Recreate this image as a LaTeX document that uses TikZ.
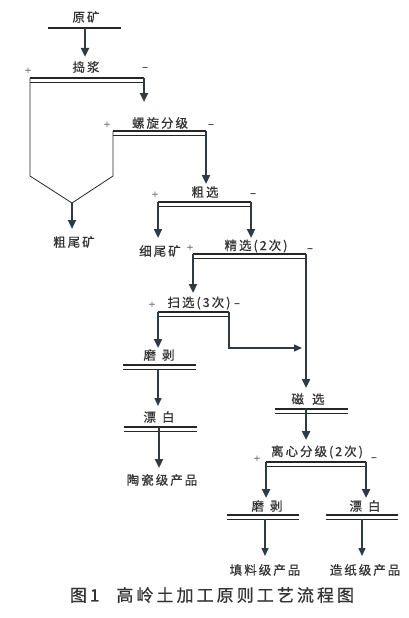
\documentclass[tikz,border=0pt]{standalone}
\usepackage{fontspec}
\setmainfont{Noto Sans CJK SC}[LetterSpace=16, FakeBold=0.6]
\usetikzlibrary{arrows.meta}
\usetikzlibrary{calc}
\definecolor{ink}{HTML}{333333}
\definecolor{slate}{HTML}{2E3A44}

\tikzset{
  lbl/.style={inner sep=0pt, text=ink, font=\fontsize{12.5}{12.5}\selectfont},
  sgn/.style={inner sep=0pt, text=ink, font=\fontsize{11}{11}\selectfont},
  barhi/.style={line width=2.4pt, black!85},
  barlo/.style={line width=0.8pt, black!85},
  wire/.style={line width=0.8pt, black!85},
  arrA/.style={line width=2.4pt, slate, -{Triangle[length=9pt,width=8pt]}},
  arrB/.style={line width=1.4pt, slate, -{Triangle[length=8pt,width=7pt]}},
}

\begin{document}
\begin{tikzpicture}[x=1pt, y=-1pt]
        \useasboundingbox (0,0) rectangle (409,618);

        % labels
        \node[lbl] (yk) at (86,17) {原矿};
        \node[lbl] (dj) at (86,67) {捣浆};
        \node[lbl] (lx) at (160,123) {螺旋分级};
        \node[lbl] (cx) at (205,192) {粗选};
        \node[lbl] (cwk) at (74,242) {粗尾矿};
        \node[lbl] (xwk) at (160,251) {细尾矿};
        \node[lbl] (jx) at (256,246) {精选(2次)};
        \node[lbl] (sx) at (199,303) {扫选(3次)};
        \node[lbl] (mb1) at (159,355) {磨\hspace{6pt}剥};
        \node[lbl] (pb1) at (159,417) {漂\hspace{6pt}白};
        \node[lbl] (tc) at (162,480) {陶瓷级产品};
        \node[lbl] (cix) at (308,399) {磁\hspace{8pt}选};
        \node[lbl] (lf) at (317,452) {离心分级(2次)};
        \node[lbl] (mb2) at (267,506) {磨\hspace{6pt}剥};
        \node[lbl] (pb2) at (365,506) {漂\hspace{6pt}白};
        \node[lbl] (tl) at (265,570) {填料级产品};
        \node[lbl] (zz) at (365,570) {造纸级产品};
        \node[lbl, font=\fontsize{17}{17}\selectfont\addfontfeatures{LetterSpace=18}] (cap) at (212,595) {图1\hspace{17pt}高岭土加工原则工艺流程图};

        % signs
        \node[sgn, text=gray] (dj-p) at (28,71) {+};
        \node[sgn] (dj-m) at (145,69) {–};
        \node[sgn, text=gray] (lx-p) at (107,125) {+};
        \node[sgn] (lx-m) at (211,126) {–};
        \node[sgn, text=gray] (cx-p) at (155,195) {+};
        \node[sgn] (cx-m) at (253,195) {–};
        \node[sgn, text=gray] (jx-p) at (190,248) {+};
        \node[sgn] (jx-m) at (310,250) {–};
        \node[sgn, text=gray] (sx-p) at (152,305) {+};
        \node[sgn] (sx-m) at (237,305) {–};
        \node[sgn, text=gray] (lf-p) at (257,459) {+};
        \node[sgn] (lf-m) at (374,459) {–};

        % bar ends
        \coordinate (yk-l) at (48,28);   \coordinate (yk-r) at (121,28);
        \coordinate (dj-l) at (30,78);   \coordinate (dj-r) at (144,78);
        \coordinate (lx-l) at (113,131); \coordinate (lx-r) at (206,131);
        \coordinate (cx-l) at (158,202); \coordinate (cx-r) at (251,202);
        \coordinate (jx-l) at (193,254); \coordinate (jx-r) at (306,254);
        \coordinate (sx-l) at (158,312); \coordinate (sx-r) at (229,312);
        \coordinate (mb1-l) at (123,365); \coordinate (mb1-r) at (196,365);
        \coordinate (pb1-l) at (124,427); \coordinate (pb1-r) at (197,427);
        \coordinate (cix-l) at (275,409); \coordinate (cix-r) at (348,409);
        \coordinate (lf-l) at (266,462); \coordinate (lf-r) at (366,462);
        \coordinate (mb2-l) at (227,515); \coordinate (mb2-r) at (299,515);
        \coordinate (pb2-l) at (326,515); \coordinate (pb2-r) at (398,515);

        % arrow ends
        \coordinate (yk-o) at (85,28);    \coordinate (dj-i) at (85,57);
        \coordinate (lx-i) at (144,102);  \coordinate (cx-i) at (206,184);
        \coordinate (cy-a) at (30,176);   \coordinate (cy-t) at (72,203);
        \coordinate (cy-b) at (113,176);  \coordinate (cwk-i) at (72,229);
        \coordinate (xwk-i) at (158,238); \coordinate (jx-i) at (251,238);
        \coordinate (sx-i) at (193,293);  \coordinate (cix-i) at (306,388);
        \coordinate (mb1-i) at (158,348); \coordinate (sx-k) at (229,348);
        \coordinate (sx-o) at (302,348);
        \coordinate (mb1-o) at (158,369); \coordinate (pb1-i) at (158,406);
        \coordinate (pb1-o) at (159,427); \coordinate (tc-i) at (159,468);
        \coordinate (cix-o) at (306,409); \coordinate (lf-i) at (306,440);
        \coordinate (mb2-i) at (266,498); \coordinate (pb2-i) at (366,498);
        \coordinate (mb2-o) at (265,519); \coordinate (tl-i) at (265,556);
        \coordinate (pb2-o) at (362,519); \coordinate (zz-i) at (362,556);

        % bars
        \draw[wire, line width=1.1pt] (yk-l) -- (yk-r);
        \draw[barhi] (dj-l) -- (dj-r);   \draw[barlo] ($(dj-l)+(0,4.5)$) -- ($(dj-r)+(0,4.5)$);
        \draw[barhi] (lx-l) -- (lx-r);   \draw[barlo] ($(lx-l)+(0,4.5)$) -- ($(lx-r)+(0,4.5)$);
        \draw[barhi] (cx-l) -- (cx-r);   \draw[barlo] ($(cx-l)+(0,4.5)$) -- ($(cx-r)+(0,4.5)$);
        \draw[barhi] (jx-l) -- (jx-r);   \draw[barlo] ($(jx-l)+(0,4.5)$) -- ($(jx-r)+(0,4.5)$);
        \draw[barhi] (sx-l) -- (sx-r);   \draw[barlo] ($(sx-l)+(0,4.5)$) -- ($(sx-r)+(0,4.5)$);
        \draw[barhi] (mb1-l) -- (mb1-r); \draw[barlo] ($(mb1-l)+(0,4.5)$) -- ($(mb1-r)+(0,4.5)$);
        \draw[barhi] (pb1-l) -- (pb1-r); \draw[barlo] ($(pb1-l)+(0,4.5)$) -- ($(pb1-r)+(0,4.5)$);
        \draw[barhi] (cix-l) -- (cix-r); \draw[barlo] ($(cix-l)+(0,4.5)$) -- ($(cix-r)+(0,4.5)$);
        \draw[barhi] (lf-l) -- (lf-r);   \draw[barlo] ($(lf-l)+(0,4.5)$) -- ($(lf-r)+(0,4.5)$);
        \draw[barhi] (mb2-l) -- (mb2-r); \draw[barlo] ($(mb2-l)+(0,4.5)$) -- ($(mb2-r)+(0,4.5)$);
        \draw[barhi] (pb2-l) -- (pb2-r); \draw[barlo] ($(pb2-l)+(0,4.5)$) -- ($(pb2-r)+(0,4.5)$);

        % flows
        \draw[wire] (dj-l) -- (cy-a) -- (cy-t) -- (cy-b) -- (lx-l);
        \draw[arrA] (yk-o) -- (dj-i);
        \draw[arrA] (dj-r) -- (lx-i);
        \draw[arrA] (lx-r) -- (cx-i);
        \draw[arrA] (cy-t) -- (cwk-i);
        \draw[arrA] (cx-l) -- (xwk-i);
        \draw[arrA] (cx-r) -- (jx-i);
        \draw[arrA] (jx-l) -- (sx-i);
        \draw[arrA] (jx-r) -- (cix-i);
        \draw[arrA] (sx-l) -- (mb1-i);
        \draw[arrB] (sx-r) -- (sx-k) -- (sx-o);
        \draw[arrB] (mb1-o) -- (pb1-i);
        \draw[arrA] (pb1-o) -- (tc-i);
        \draw[arrA] (cix-o) -- (lf-i);
        \draw[arrA] (lf-l) -- (mb2-i);
        \draw[arrA] (lf-r) -- (pb2-i);
        \draw[arrB] (mb2-o) -- (tl-i);
        \draw[arrB] (pb2-o) -- (zz-i);
\end{tikzpicture}
\end{document}
